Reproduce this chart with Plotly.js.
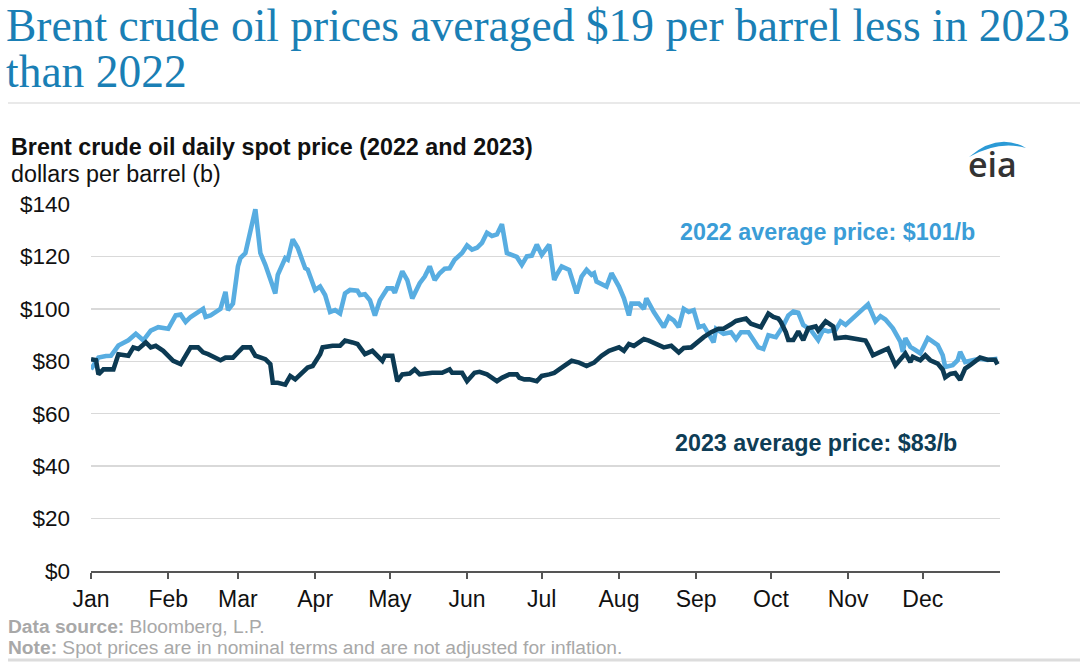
<!DOCTYPE html>
<html>
<head>
<meta charset="utf-8">
<script src="https://cdn.plot.ly/plotly-3.0.1.min.js"></script>
<style>html,body{margin:0;padding:0;background:#fff;}#chart{width:1080px;height:666px;}</style>
</head>
<body>
<div id="chart"></div>
<script>
// ---- data ----
const dates2022 = ["2022-01-01","2022-01-04","2022-01-07","2022-01-09","2022-01-12","2022-01-16","2022-01-19","2022-01-22","2022-01-25","2022-01-28",
"2022-02-01","2022-02-04","2022-02-06","2022-02-08","2022-02-10","2022-02-15","2022-02-16","2022-02-18","2022-02-22","2022-02-24","2022-02-25","2022-02-27",
"2022-03-01","2022-03-02","2022-03-04","2022-03-06","2022-03-08","2022-03-10","2022-03-12","2022-03-16","2022-03-17","2022-03-20","2022-03-21","2022-03-23","2022-03-25","2022-03-28","2022-03-29",
"2022-04-01","2022-04-03","2022-04-05","2022-04-07","2022-04-09","2022-04-11","2022-04-13","2022-04-15","2022-04-18","2022-04-19","2022-04-21","2022-04-23","2022-04-25","2022-04-27","2022-04-30",
"2022-05-02","2022-05-03","2022-05-06","2022-05-08","2022-05-10","2022-05-13","2022-05-15","2022-05-17","2022-05-19","2022-05-21","2022-05-23","2022-05-25","2022-05-27","2022-05-30",
"2022-06-01","2022-06-03","2022-06-05","2022-06-07","2022-06-09","2022-06-11","2022-06-13","2022-06-15","2022-06-17","2022-06-21","2022-06-23","2022-06-25","2022-06-27","2022-06-29",
"2022-07-01","2022-07-04","2022-07-06","2022-07-07","2022-07-09","2022-07-12","2022-07-15","2022-07-17","2022-07-19","2022-07-21","2022-07-22","2022-07-23","2022-07-27","2022-07-29",
"2022-08-01","2022-08-03","2022-08-05","2022-08-06","2022-08-09","2022-08-11","2022-08-12","2022-08-15","2022-08-19","2022-08-21","2022-08-23","2022-08-25","2022-08-27","2022-08-29","2022-08-31",
"2022-09-02","2022-09-04","2022-09-08","2022-09-09","2022-09-12","2022-09-15","2022-09-17","2022-09-19","2022-09-22","2022-09-24","2022-09-26","2022-09-28","2022-09-30",
"2022-10-03","2022-10-06","2022-10-08","2022-10-10","2022-10-12","2022-10-14","2022-10-17","2022-10-20","2022-10-22","2022-10-24","2022-10-27","2022-10-29","2022-10-31",
"2022-11-03","2022-11-05","2022-11-07","2022-11-09","2022-11-12","2022-11-14","2022-11-16","2022-11-19","2022-11-22","2022-11-23","2022-11-24","2022-11-26","2022-11-28","2022-11-30",
"2022-12-03","2022-12-05","2022-12-07","2022-12-09","2022-12-10","2022-12-13","2022-12-15","2022-12-16","2022-12-18","2022-12-21","2022-12-24","2022-12-27","2022-12-31"];
const prices2022 = [77.0,81.4,82.0,82.1,86.0,88.0,90.5,88.0,91.7,93.0,
92.4,97.5,97.8,95.0,96.9,100.0,96.9,97.5,100.0,106.5,99.5,102.0,
116.2,119.4,121.3,129.0,138.0,121.3,116.8,105.9,113.0,119.4,118.8,126.5,123.3,115.5,115.0,
107.2,108.5,105.3,98.8,99.5,98.2,105.9,107.2,106.9,105.3,105.6,103.3,97.5,103.3,107.8,
107.8,106.1,114.3,111.0,104.0,109.8,112.3,116.2,111.0,113.6,115.3,115.5,118.7,121.3,
124.2,122.6,123.3,125.2,129.0,127.8,128.4,132.3,121.3,119.8,116.8,120.0,120.3,124.5,
120.6,124.5,111.0,113.0,116.2,114.9,105.9,112.3,114.9,113.0,113.6,110.4,108.5,113.6,
108.5,104.0,97.5,102.0,102.0,100.0,104.0,98.8,93.0,96.9,95.6,93.0,100.0,98.8,99.5,
93.0,93.6,87.2,92.4,90.5,91.1,88.5,91.1,91.1,88.0,85.3,84.7,89.9,
89.2,93.6,97.5,99.0,98.5,93.9,92.0,88.1,92.0,91.4,92.0,95.2,93.9,
96.5,97.8,99.7,101.7,95.2,97.2,95.9,92.6,87.5,83.6,88.8,85.5,84.3,83.0,
88.8,87.5,86.2,82.3,77.8,78.5,80.4,83.6,79.7,80.4,81.0,80.5,81.0];

const dates2023 = ["2023-01-01","2023-01-03","2023-01-04","2023-01-06","2023-01-10","2023-01-12","2023-01-16","2023-01-18","2023-01-20","2023-01-23","2023-01-25","2023-01-27","2023-01-30",
"2023-02-03","2023-02-06","2023-02-08","2023-02-10","2023-02-13","2023-02-15","2023-02-17","2023-02-22","2023-02-24","2023-02-27",
"2023-03-01","2023-03-03","2023-03-06","2023-03-08","2023-03-12","2023-03-14","2023-03-15","2023-03-17","2023-03-20","2023-03-22","2023-03-24","2023-03-27","2023-03-29","2023-03-31",
"2023-04-03","2023-04-04","2023-04-08","2023-04-11","2023-04-13","2023-04-16","2023-04-18","2023-04-21","2023-04-24","2023-04-28","2023-04-29",
"2023-05-02","2023-05-04","2023-05-06","2023-05-09","2023-05-11","2023-05-13","2023-05-18","2023-05-22","2023-05-25","2023-05-26","2023-05-30",
"2023-06-01","2023-06-04","2023-06-06","2023-06-09","2023-06-13","2023-06-15","2023-06-18","2023-06-21","2023-06-22","2023-06-24","2023-06-26","2023-06-29",
"2023-07-01","2023-07-04","2023-07-06","2023-07-09","2023-07-13","2023-07-16","2023-07-19","2023-07-22","2023-07-25","2023-07-28",
"2023-08-01","2023-08-03","2023-08-05","2023-08-07","2023-08-11","2023-08-13","2023-08-16","2023-08-19","2023-08-22","2023-08-25","2023-08-27","2023-08-30",
"2023-09-04","2023-09-07","2023-09-10","2023-09-12","2023-09-15","2023-09-17","2023-09-21","2023-09-23","2023-09-27","2023-09-30",
"2023-10-02","2023-10-04","2023-10-05","2023-10-07","2023-10-08","2023-10-10","2023-10-12","2023-10-14","2023-10-16","2023-10-19","2023-10-20","2023-10-23","2023-10-26","2023-10-27","2023-10-31",
"2023-11-04","2023-11-08","2023-11-09","2023-11-11","2023-11-14","2023-11-17","2023-11-20","2023-11-22","2023-11-24","2023-11-26","2023-11-27","2023-11-30",
"2023-12-02","2023-12-04","2023-12-07","2023-12-09","2023-12-10","2023-12-12","2023-12-14","2023-12-16","2023-12-18","2023-12-20","2023-12-24","2023-12-27","2023-12-30","2023-12-31"];
const prices2023 = [80.8,80.4,75.0,76.9,76.9,82.7,82.1,85.3,84.7,87.2,85.3,85.9,84.0,
80.2,78.9,82.1,85.3,85.3,83.4,82.7,80.4,81.4,81.4,
83.4,85.3,85.3,82.1,80.8,78.9,71.8,71.8,71.1,74.4,73.1,75.6,77.6,78.2,
82.7,85.3,85.9,85.9,87.9,87.2,86.6,82.7,84.0,80.2,82.1,
82.1,72.4,75.0,75.3,76.9,75.0,75.6,75.6,76.9,75.6,75.6,
72.4,75.6,76.0,75.0,72.4,73.7,75.0,75.0,73.7,73.1,73.1,72.4,
74.4,75.0,75.6,77.6,80.2,79.5,78.2,79.5,82.1,84.0,
85.3,84.0,86.6,85.9,88.5,87.9,86.6,85.3,85.9,83.4,85.1,85.3,
89.2,91.1,92.4,92.4,94.1,95.4,96.3,94.3,93.0,98.2,
96.9,96.3,95.0,91.1,88.1,88.1,91.4,88.1,92.6,93.3,91.7,95.2,93.3,88.8,89.2,
88.4,87.9,86.2,82.3,83.6,84.9,78.5,81.0,83.0,79.7,81.7,80.4,
82.3,80.4,79.1,76.8,73.9,75.2,75.5,72.9,77.2,78.5,81.4,80.6,80.6,78.8];

const monthTicks = ["2023-01-01","2023-02-01","2023-03-01","2023-04-01","2023-05-01","2023-06-01","2023-07-01","2023-08-01","2023-09-01","2023-10-01","2023-11-01","2023-12-01"];
const monthLabels = ["Jan","Feb","Mar","Apr","May","Jun","Jul","Aug","Sep","Oct","Nov","Dec"];
const yTickVals = [0,20,40,60,80,100,120,140];
const yTickLabels = ["$0","$20","$40","$60","$80","$100","$120","$140"];

// ---- layout helpers (pixel -> paper) ----
const L = 91, R = 1000, T = 204, B = 571;
const fx = px => (px - L) / (R - L);
const fy = py => (B - py) / (B - T);

// Both years share one Jan–Dec axis
const x2022 = dates2022.map(d => "2023" + d.slice(4));

const traces = [
  {x: x2022, y: prices2022, type: "scatter", mode: "lines", name: "2022",
   line: {color: "#58ade1", width: 4.6}, hoverinfo: "skip"},
  {x: dates2023, y: prices2023, type: "scatter", mode: "lines", name: "2023",
   line: {color: "#0c3a53", width: 4.6}, hoverinfo: "skip"}
];

const ann = (text, px, py, opts) => Object.assign({
  text: text, xref: "paper", yref: "paper", x: fx(px), y: fy(py),
  xanchor: "left", yanchor: "middle", showarrow: false, align: "left"
}, opts);

const serif = "Liberation Serif, Times New Roman, serif";

const layout = {
  width: 1080, height: 666, autosize: false,
  margin: {l: L, r: 1080 - R, t: T, b: 666 - B, pad: 0},
  paper_bgcolor: "#fff", plot_bgcolor: "#fff",
  showlegend: false,
  font: {family: "Liberation Sans, Arial, sans-serif", color: "#111"},
  xaxis: {
    type: "date", range: ["2023-01-01", "2024-01-01"],
    tickmode: "array", tickvals: monthTicks, ticktext: monthLabels,
    ticks: "outside", ticklen: 6, tickwidth: 1.5, tickcolor: "#555",
    showline: true, linecolor: "#555", linewidth: 2,
    showgrid: false, zeroline: false,
    tickfont: {size: 23, color: "#111"}, ticklabelstandoff: 0,
    fixedrange: true
  },
  yaxis: {
    range: [0, 140], tickmode: "array", tickvals: yTickVals, ticktext: yTickLabels,
    showgrid: true, gridcolor: "#d9d9d9", gridwidth: 1.5,
    zeroline: false, showline: false, ticks: "",
    tickfont: {size: 22.5, color: "#111"}, ticklabelstandoff: 20,
    fixedrange: true
  },
  shapes: [
    {type: "line", xref: "paper", yref: "paper", x0: fx(8), x1: fx(1080), y0: fy(103), y1: fy(103),
     line: {color: "#d4d4d4", width: 1.2}},
    {type: "line", xref: "paper", yref: "paper", x0: fx(8), x1: fx(1080), y0: fy(660), y1: fy(660),
     line: {color: "#dcdcdc", width: 3}},
    {type: "path", xref: "paper", yref: "paper", fillcolor: "#2b9ad6", line: {width: 0},
     path: `M ${fx(969)} ${fy(157)} Q ${fx(998)} ${fy(132)} ${fx(1026)} ${fy(148)} Q ${fx(999)} ${fy(140)} ${fx(969)} ${fy(157)} Z`}
  ],
  annotations: [
    ann("Brent crude oil prices averaged $19 per barrel less in 2023", 4, 25,
        {font: {family: serif, size: 45.5, color: "#1a7fb5"}}),
    ann("than 2022", 4, 71,
        {font: {family: serif, size: 45.5, color: "#1a7fb5"}}),
    ann("<b>Brent crude oil daily spot price (2022 and 2023)</b>", 9, 147,
        {font: {size: 23.3, color: "#111"}}),
    ann("dollars per barrel (b)", 9, 174, {font: {size: 23.3, color: "#111"}}),
    ann("eia", 992, 164, {xanchor: "center", font: {family: "Open Sans, sans-serif", size: 34, color: "#333", weight: 600}}),
    ann("<b>2022 average price: $101/b</b>", 678, 232, {font: {size: 23.3, color: "#3b9dd7"}}),
    ann("<b>2023 average price: $83/b</b>", 673, 443, {font: {size: 23.3, color: "#0e3d56"}}),
    ann("<b>Data source:</b> Bloomberg, L.P.", 6, 626, {font: {size: 19.2, color: "#a8a8a8"}}),
    ann("<b>Note:</b> Spot prices are in nominal terms and are not adjusted for inflation.", 6, 647,
        {font: {size: 19.2, color: "#a8a8a8"}})
  ]
};

Plotly.newPlot("chart", traces, layout, {displayModeBar: false, staticPlot: true});
</script>
</body>
</html>
